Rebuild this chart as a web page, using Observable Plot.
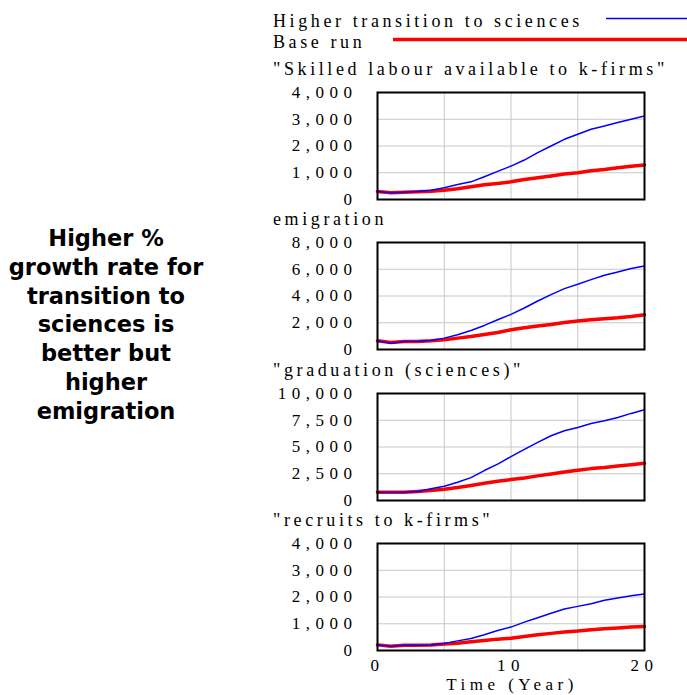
<!DOCTYPE html>
<html><head><meta charset="utf-8">
<script src="https://cdn.jsdelivr.net/npm/d3@7"></script>
<script src="https://cdn.jsdelivr.net/npm/@observablehq/plot@0.6"></script>
<style>
body{margin:0;background:#fff;}
#root{position:relative;width:687px;height:695px;overflow:hidden;background:#fff;}
.panel{position:absolute;left:0;}
#overlay{position:absolute;left:0;top:0;}
</style></head><body><div id="root"></div>
<script>
// ---- data ----
const years = [0,1,2,3,4,5,6,7,8,9,10,11,12,13,14,15,16,17,18,19,20];
const seriesNames = ["Higher transition to sciences", "Base run"];
const sideNote = ["Higher %", "growth rate for", "transition to", "sciences is", "better but", "higher", "emigration"];
const xTickValues = [0, 10, 20];
const xGridValues = [5, 10, 15];
const xLabel = "Time (Year)";

const panelTitles = ["\"Skilled labour available to k-firms\"", "emigration", "\"graduation (sciences)\"", "\"recruits to k-firms\""];

const skilledHigher = [300,250,275,300,350,440,560,660,850,1050,1250,1475,1750,2000,2250,2440,2625,2750,2875,3000,3125];
const skilledBase   = [300,250,275,290,310,350,400,475,550,600,660,750,810,875,950,1000,1075,1125,1190,1240,1290];
const skilledTicks  = [0,1000,2000,3000,4000];

const emigHigher = [650,475,600,625,675,850,1100,1425,1800,2225,2625,3100,3625,4100,4550,4875,5225,5550,5800,6050,6250];
const emigBase   = [650,525,600,600,650,725,850,975,1125,1275,1475,1625,1750,1875,2025,2125,2225,2300,2375,2475,2600];
const emigTicks  = [0,2000,4000,6000,8000];

const gradHigher = [775,775,775,840,1090,1335,1700,2140,2800,3400,4100,4780,5430,6050,6520,6830,7200,7450,7760,8140,8480];
const gradBase   = [775,775,775,840,930,1055,1210,1400,1615,1800,1955,2110,2300,2480,2670,2830,2980,3075,3230,3350,3480];
const gradTicks  = [0,2500,5000,7500,10000];

const recrHigher = [210,160,200,200,210,260,360,450,590,750,875,1060,1225,1390,1550,1650,1750,1875,1960,2050,2110];
const recrBase   = [210,160,200,200,210,240,275,325,375,425,460,525,590,640,690,725,775,810,840,875,900];
const recrTicks  = [0,1000,2000,3000,4000];

// ---- layout ----
const W = 687, H = 695;
const frameTops = [92, 242, 393, 543];
const frameH = 107;
const panels = [
  {higher: skilledHigher, base: skilledBase, ticks: skilledTicks},
  {higher: emigHigher, base: emigBase, ticks: emigTicks},
  {higher: gradHigher, base: gradBase, ticks: gradTicks},
  {higher: recrHigher, base: recrBase, ticks: recrTicks}
];
const root = document.getElementById("root");
const serif = "'Liberation Serif', serif";

panels.forEach((p, i) => {
  const last = i === panels.length - 1;
  const mt = 10, mb = last ? 45 : 10;
  const chart = Plot.plot({
    width: W,
    height: mt + frameH + mb,
    marginLeft: 377, marginRight: 43, marginTop: mt, marginBottom: mb,
    style: {fontFamily: serif, fontSize: "17px", letterSpacing: "5.5px", color: "#000", background: "transparent", overflow: "visible"},
    x: {domain: [0, 20], axis: last ? "bottom" : null, ticks: xTickValues, tickSize: 0, tickPadding: 8, tickFormat: d => String(d), label: null},
    y: {domain: [0, p.ticks[p.ticks.length - 1]], ticks: p.ticks, tickSize: 0, tickPadding: 20, tickFormat: d3.format(","), label: null},
    marks: [
      Plot.ruleX(xGridValues, {stroke: "#c8c8c8", strokeWidth: 1}),
      Plot.ruleY(p.ticks.slice(1, -1), {stroke: "#c8c8c8", strokeWidth: 1}),
      Plot.line(years, {x: years, y: p.base, stroke: "#ff0000", strokeWidth: 3.5}),
      Plot.line(years, {x: years, y: p.higher, stroke: "#0000ff", strokeWidth: 1.5}),
      Plot.frame({stroke: "#000", strokeWidth: 2})
    ]
  });
  chart.classList.add("panel");
  chart.style.top = (frameTops[i] - mt) + "px";
  root.appendChild(chart);
});

// ---- overlay text: legend, titles, side note, x label ----
const svg = d3.select(root).append("svg").attr("id", "overlay").attr("width", W).attr("height", H);
const legendRows = [
  {name: seriesNames[0], y: 27, lineY: 18.5, x1: 606, color: "#0000ff", w: 1.5},
  {name: seriesNames[1], y: 48, lineY: 39.5, x1: 393, color: "#ff0000", w: 3.5}
];
legendRows.forEach(r => {
  svg.append("text").attr("x", 273).attr("y", r.y).text(r.name)
    .style("font-family", serif).style("font-size", "18px").style("letter-spacing", "3.6px").attr("fill", "#000");
  svg.append("line").attr("x1", r.x1).attr("x2", W).attr("y1", r.lineY).attr("y2", r.lineY)
    .attr("stroke", r.color).attr("stroke-width", r.w);
});
panelTitles.forEach((t, i) => {
  svg.append("text").attr("x", 273).attr("y", frameTops[i] - 17).text(t)
    .style("font-family", serif).style("font-size", "18px").style("letter-spacing", "3.6px").attr("fill", "#000");
});
svg.append("text").attr("x", 512).attr("y", 690).attr("text-anchor", "middle").text(xLabel)
  .style("font-family", serif).style("font-size", "17px").style("letter-spacing", "4.5px").attr("fill", "#000");
sideNote.forEach((s, i) => {
  svg.append("text").attr("x", 106).attr("y", 246 + i * 28.8).attr("text-anchor", "middle").text(s)
    .style("font-family", "'DejaVu Sans', sans-serif").style("font-weight", "bold").style("font-size", "22.5px").attr("fill", "#000");
});
</script></body></html>
